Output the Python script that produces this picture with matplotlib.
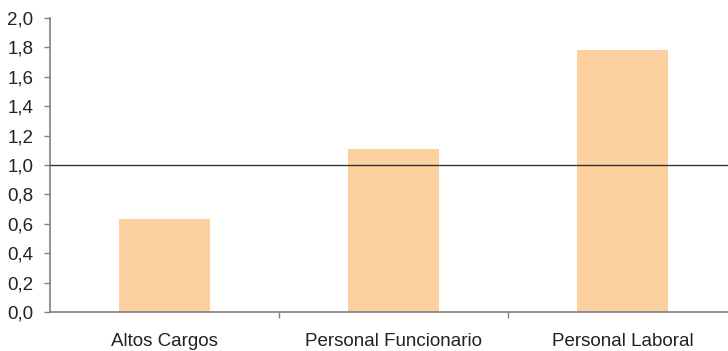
import matplotlib
matplotlib.use("Agg")
import matplotlib.pyplot as plt
from matplotlib.ticker import FixedLocator, FuncFormatter

categories = ["Altos Cargos", "Personal Funcionario", "Personal Laboral"]
values = [0.63, 1.11, 1.78]
ref_line = 1.0
yticks = [0.0, 0.2, 0.4, 0.6, 0.8, 1.0, 1.2, 1.4, 1.6, 1.8, 2.0]

plt.rcParams['font.family'] = ['Liberation Sans', 'DejaVu Sans']

fig = plt.figure(figsize=(7.28, 3.51), dpi=100)
ax = fig.add_axes([50/728, 39/351, 687/728, 294/351])

x = list(range(len(categories)))
ax.bar(x, values, width=0.4, color="#FDD09F", zorder=2)
ax.axhline(ref_line, color="#333333", linewidth=1.0, zorder=3)

ax.set_xlim(-0.5, len(categories) - 0.5)
ax.set_ylim(0, 2.0)
ax.set_yticks(yticks)
ax.yaxis.set_major_formatter(FuncFormatter(lambda v, p: f"{v:.1f}".replace(".", ",")))
ax.tick_params(axis="y", length=4, width=1, color="#808080", pad=8, labelsize=13.5, labelcolor="#222222")

ax.set_xticks(x)
ax.set_xticklabels(categories)
ax.tick_params(axis="x", which="major", length=0, pad=15, labelsize=13.5, labelcolor="#222222")
ax.xaxis.set_minor_locator(FixedLocator([0.5, 1.5]))
ax.tick_params(axis="x", which="minor", length=4, width=1, color="#808080")

for s in ["top", "right"]:
    ax.spines[s].set_visible(False)
for s in ["left", "bottom"]:
    ax.spines[s].set_color("#808080")
    ax.spines[s].set_linewidth(1.2)

fig.savefig("out.png", dpi=100)
